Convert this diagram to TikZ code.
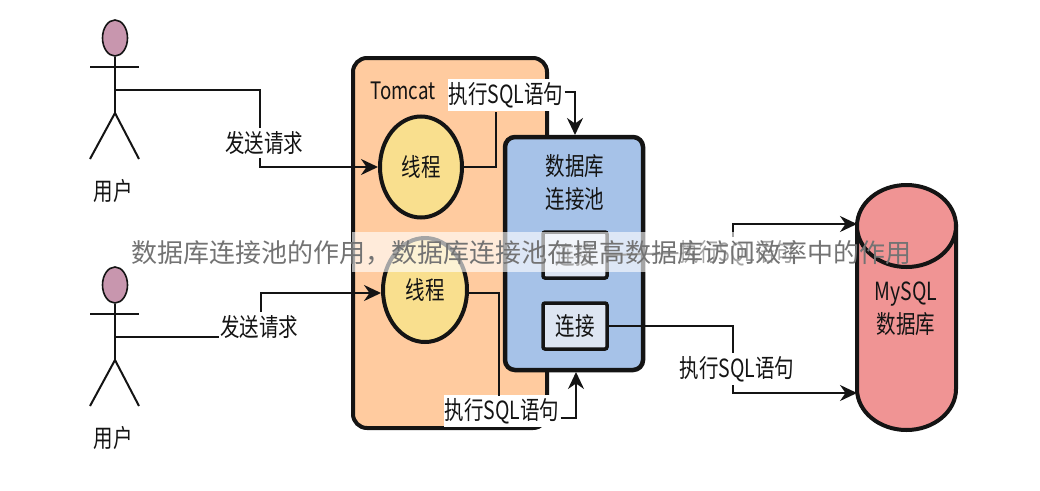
\documentclass[tikz,border=0pt]{standalone}
\usepackage{fontspec}
\setmainfont[FakeStretch=0.78]{Noto Sans CJK SC}
\newfontfamily\markfont{Noto Sans CJK SC}
\usetikzlibrary{arrows.meta,shapes.geometric}
\definecolor{tomcatfill}{HTML}{FFCB9F}
\definecolor{poolfill}{HTML}{A6C2E8}
\definecolor{threadfill}{HTML}{F9DF8E}
\definecolor{connfill}{HTML}{DDE5F2}
\definecolor{dbfill}{HTML}{F09494}
\definecolor{headfill}{HTML}{C896AE}
\definecolor{inkline}{HTML}{141414}
\tikzset{
  txt/.style={font=\fontsize{25}{33}\selectfont,text=inkline,inner sep=0pt,align=center},
  msg/.style={txt,fill=white,inner xsep=1pt,inner ysep=3pt},
  head/.style={ellipse,draw=inkline,line width=1.6pt,fill=headfill,minimum width=25pt,minimum height=36pt,inner sep=0pt},
  thread/.style={ellipse,txt,draw=inkline,line width=4pt,fill=threadfill,minimum width=82pt,minimum height=101pt},
  conn/.style={txt,rectangle,rounded corners=2pt,draw=inkline,line width=3.5pt,fill=connfill,minimum width=64pt,minimum height=46pt},
  stick/.style={line width=2pt,draw=inkline},
  wire/.style={line width=2pt,draw=inkline},
  flow/.style={wire,-{Stealth[length=17pt,width=16pt]}}
}
\begin{document}
\begin{tikzpicture}[x=1pt,y=-1pt]
\useasboundingbox (0,0) rectangle (1040,490);

% Tomcat and pool
\draw[line width=4pt,draw=inkline,fill=tomcatfill,rounded corners=14pt] (353,58) rectangle (547,428);
\node[txt,font=\fontsize{24}{33}\selectfont] (tomcat) at (403,91) {Tomcat};
\node[rectangle,draw=inkline,line width=4.5pt,fill=poolfill,rounded corners=10pt,minimum width=138pt,minimum height=233pt] (pool) at (574,253.5) {};
\node[txt] (pooltitle) at (575,183) {数据库\\连接池};

% Threads and connections
\node[thread] (thread1) at (421,167) {线程};
\node[thread,minimum width=84pt,minimum height=104pt] (thread2) at (425,290) {线程};
\node[conn] (conn1) at (575,255) {连接};
\node[conn] (conn2) at (575,326) {连接};

% Users
\foreach \name/\y in {1/0,2/247} {
    \node[head] (head\name) at (115,38+\y) {};
    \draw[stick] (90,67+\y) -- (139,67+\y);
    \coordinate (hip\name) at (115,113+\y);
    \draw[stick] (head\name) -- (hip\name);
    \draw[stick] (90,159+\y) -- (hip\name) -- (139,159+\y);
    \node[txt] (user\name) at (113,191+\y) {用户};
}

% Database
\draw[line width=4pt,draw=inkline,fill=dbfill] (857,226) -- (857,389) arc[start angle=180,end angle=360,x radius=49.5,y radius=-41] -- (956,226) -- cycle;
\draw[line width=4pt,draw=inkline,fill=dbfill] (906.5,226) ellipse[x radius=49.5,y radius=41];
\node[txt] (mysql) at (906,309) {MySQL\\数据库};
\coordinate (dbtop) at (857,224);
\coordinate (dbbot) at (857,393);

% Requests
\node[msg] (send1) at (264,143) {发送请求};
\node[msg] (send2) at (259,327) {发送请求};
\coordinate (turn1) at (260,90);
\coordinate (turn2) at (261,293);
\draw[wire] (115,90) -- (turn1) -- (turn1 |- send1.north);
\draw[flow] (turn1 |- send1.south) |- (thread1.west);
\draw[wire] (115,337) -- (send2.west |- 0,337);
\draw[flow] (turn2 |- send2.north) -- (turn2) -- (thread2.west |- turn2);

% SQL from threads to pool
\node[msg] (sql1) at (506,95) {执行SQL语句};
\node[msg] (sql2) at (502,411) {执行SQL语句};
\draw[wire] (thread1.east) -| (496,112);
\draw[wire] (thread2.east |- turn2) -| (499,396);
\draw[flow] (sql1.east |- 0,92) -| (575,135);
\draw[flow] (sql2.east |- 0,418) -| (576,372);

% SQL from connections to database
\node[msg] (sql3) at (737,253) {执行SQL语句};
\node[msg] (sql4) at (737,369) {执行SQL语句};
\draw[wire] (conn1.east) -- (sql3.west);
\draw[flow] (733,237) |- (dbtop);
\draw[wire] (conn2.east) -| (sql4.north -| 733,0);
\draw[flow] (sql4.south -| 733,0) |- (dbbot);

% Caption over the picture
\fill[white,opacity=0.62] (352,232) rectangle (800,272);
\node[font=\markfont\fontsize{26}{26}\selectfont,text=black!55,inner sep=0pt] (caption) at (521,253) {数据库连接池的作用，数据库连接池在提高数据库访问效率中的作用};
\end{tikzpicture}
\end{document}
